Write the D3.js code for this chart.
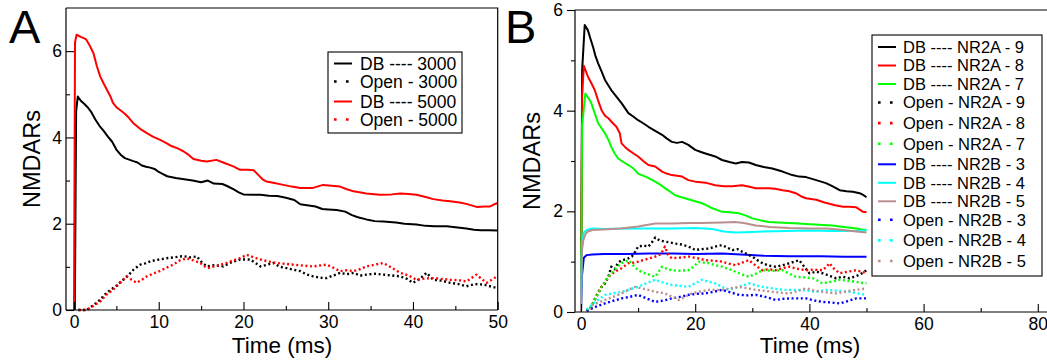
<!DOCTYPE html>
<html><head><meta charset="utf-8">
<script src="https://cdn.jsdelivr.net/npm/d3@7"></script>
<style>body{margin:0;background:#fff}svg{display:block}text{font-family:"Liberation Sans",Arial,sans-serif;fill:#000}</style>
</head><body>
<svg id="c" width="1047" height="364"></svg>
<script>
// ---------- DATA (time ms, NMDARs) ----------
const aTicksX = [0,10,20,30,40,50];
const aTicksY = [0,2,4,6];
const bTicksX = [0,20,40,60,80];
const bTicksY = [0,2,4,6];

const a_db3000 = [[0.1,0],[0.25,4.6],[0.45,4.95],[0.8,4.85],[1.2,4.78],[1.6,4.7],[2,4.6],[2.5,4.42],[3,4.27],[3.5,4.15],[4,4.02],[4.5,3.9],[5,3.72],[5.5,3.6],[6,3.52],[7,3.45],[7.5,3.42],[8,3.35],[8.5,3.32],[9,3.3],[9.5,3.27],[10,3.2],[10.5,3.15],[11,3.1],[12,3.06],[13,3.03],[14,3.0],[15,2.96],[15.8,3.0],[16.5,2.93],[17.5,2.92],[18,2.88],[18.8,2.8],[19.5,2.72],[20,2.68],[21,2.67],[22,2.67],[23,2.65],[24,2.64],[25,2.6],[26,2.55],[26.7,2.45],[27.5,2.43],[28.5,2.4],[29.3,2.34],[30,2.33],[31,2.32],[32,2.28],[32.8,2.2],[33.5,2.15],[34.5,2.1],[35.5,2.06],[36.5,2.05],[38,2.03],[39,2.0],[40.4,1.98],[41.5,1.95],[42.5,1.94],[44,1.94],[45,1.92],[46.3,1.89],[47.2,1.86],[48,1.85],[49,1.85],[50,1.84]];
const a_open3000 = [[0.5,0],[1.5,0],[2.2,0.1],[3.1,0.24],[3.6,0.35],[4.2,0.45],[5,0.56],[5.8,0.7],[6.4,0.8],[7,0.93],[7.8,1.05],[8.4,1.08],[9,1.13],[9.8,1.16],[10.9,1.2],[11.8,1.22],[12.9,1.25],[13.7,1.22],[14.5,1.24],[15.1,1.1],[15.7,1.01],[16.6,1.04],[17.6,1.01],[18.5,1.1],[19.6,1.17],[20.8,1.17],[21.5,1.08],[22,1.01],[22.8,1.05],[23.5,1.09],[24.3,1.0],[25.1,0.97],[26,0.93],[26.7,0.9],[27.5,0.82],[28.2,0.78],[29,0.75],[29.8,0.74],[30.6,0.8],[31.4,0.86],[32.2,0.83],[33,0.86],[33.8,0.8],[34.5,0.82],[35.5,0.84],[36.5,0.82],[37.5,0.8],[38.5,0.78],[39.3,0.72],[40,0.63],[40.8,0.72],[41.6,0.86],[42.4,0.7],[43.4,0.68],[44.4,0.63],[45.4,0.6],[46.3,0.55],[47.3,0.6],[48.3,0.59],[49.1,0.55],[49.9,0.51]];
const a_db5000 = [[0,0],[0.12,6.2],[0.3,6.38],[0.8,6.33],[1.4,6.28],[1.8,6.15],[2.3,5.95],[2.7,5.65],[3.1,5.41],[3.5,5.25],[3.9,5.1],[4.3,4.95],[4.6,4.8],[5,4.7],[5.4,4.64],[6,4.55],[6.5,4.45],[7,4.33],[7.8,4.2],[8.6,4.1],[9.3,4.02],[10.1,3.95],[10.9,3.87],[11.5,3.8],[12.3,3.74],[12.9,3.68],[13.5,3.6],[14.1,3.5],[15,3.46],[15.7,3.44],[16.8,3.48],[17.6,3.42],[18.8,3.33],[19.6,3.25],[20.5,3.25],[21.2,3.24],[21.8,3.12],[22.3,3.02],[22.7,2.98],[23.5,2.95],[24.7,2.9],[25.7,2.86],[26.7,2.83],[28.2,2.83],[29.4,2.9],[30.4,2.88],[31.4,2.86],[32.2,2.8],[33,2.75],[34.5,2.7],[36.1,2.67],[37.5,2.68],[38.5,2.7],[39.5,2.69],[40.4,2.67],[41.5,2.62],[42.4,2.57],[43.5,2.54],[44.4,2.52],[45.5,2.49],[46.3,2.46],[47.5,2.39],[48.5,2.4],[49.1,2.4],[49.6,2.45],[50,2.48]];
const a_open5000 = [[0.6,0],[1.5,0],[2.3,0.1],[3.1,0.2],[3.8,0.35],[4.6,0.47],[5.4,0.62],[6.2,0.78],[6.8,0.7],[7.4,0.63],[8,0.7],[8.6,0.78],[9.4,0.85],[10.1,0.9],[10.9,0.98],[11.7,1.05],[12.5,1.15],[13.3,1.2],[14.1,1.15],[14.9,1.09],[15.7,0.97],[16.8,1.02],[18,1.09],[18.8,1.15],[19.6,1.2],[20.4,1.28],[21.2,1.22],[22,1.17],[23,1.12],[23.9,1.09],[24.9,1.07],[25.9,1.05],[27,1.03],[28.2,1.01],[29,1.03],[29.8,1.05],[30.6,0.98],[31.4,0.9],[32.2,0.92],[33,0.9],[33.8,0.95],[34.5,1.01],[35.5,1.05],[36.5,1.09],[37.5,0.98],[38.5,0.86],[39.5,0.8],[40.4,0.7],[41.4,0.73],[42.4,0.74],[43.4,0.72],[44.4,0.7],[45.4,0.69],[46.3,0.66],[47.5,0.82],[48.1,0.72],[48.7,0.63],[49.3,0.7],[49.9,0.78]];

const b_db_nr2a9 = [[0,0],[0.2,4.8],[0.65,5.7],[1.2,5.6],[1.6,5.45],[2.1,5.27],[2.5,5.1],[3,4.94],[3.6,4.78],[4.2,4.61],[4.8,4.5],[5.3,4.41],[6.2,4.28],[7.1,4.15],[7.7,4.05],[8.3,3.95],[9.2,3.88],[10,3.81],[10.9,3.75],[11.8,3.68],[13,3.6],[14.2,3.52],[15,3.45],[15.9,3.38],[16.8,3.36],[17.7,3.38],[18.8,3.32],[20,3.22],[21,3.18],[21.8,3.15],[23.5,3.09],[24.7,3.02],[26,2.98],[27.1,2.95],[28.2,2.98],[29.4,2.97],[30.6,2.92],[32,2.88],[33.5,2.85],[35.3,2.79],[37,2.72],[38.2,2.69],[39.4,2.68],[40.3,2.65],[41.2,2.62],[42.9,2.56],[44,2.5],[45.3,2.42],[46.5,2.4],[47.6,2.39],[48.8,2.36],[49.5,2.32],[50,2.28]];
const b_db_nr2a8 = [[0,0],[0.2,4.3],[0.5,4.89],[1.2,4.68],[1.8,4.55],[2.4,4.41],[3,4.2],[3.6,4.01],[4.2,3.9],[4.8,3.85],[5.5,3.76],[6.2,3.68],[6.8,3.55],[7.1,3.35],[7.7,3.28],[8.3,3.22],[9.2,3.15],[10,3.09],[10.9,3.0],[11.8,2.92],[13,2.89],[14.2,2.79],[15,2.75],[15.9,2.72],[17.7,2.69],[18.8,2.62],[20,2.59],[21,2.58],[21.8,2.57],[23.5,2.52],[25,2.5],[26.5,2.5],[28.2,2.52],[29.5,2.49],[30.6,2.46],[32.9,2.46],[34,2.45],[35.3,2.42],[36.5,2.4],[37.6,2.36],[38.5,2.3],[39.4,2.26],[41.2,2.23],[42.5,2.18],[43.5,2.15],[44.5,2.12],[45.9,2.09],[47,2.09],[48.2,2.08],[49.4,1.99],[50,1.98]];
const b_db_nr2a7 = [[0,0],[0.2,3.7],[0.76,4.34],[1.3,4.25],[1.8,4.15],[2.4,3.95],[3,3.75],[3.6,3.65],[4.2,3.55],[4.8,3.42],[5.3,3.28],[5.9,3.15],[6.5,3.05],[7.4,2.98],[8.3,2.92],[9.2,2.85],[10,2.75],[11.5,2.68],[13,2.59],[14,2.52],[14.7,2.46],[15.5,2.4],[16.5,2.32],[17.6,2.28],[18.8,2.24],[20,2.2],[21.2,2.16],[22,2.12],[23,2.06],[24,2.02],[24.7,1.99],[26,1.98],[27.7,1.96],[28.8,1.92],[30,1.86],[31.5,1.82],[32.9,1.79],[34.5,1.78],[36.5,1.77],[38,1.76],[39.4,1.75],[41,1.74],[42.3,1.73],[44,1.72],[45.3,1.7],[46.8,1.68],[48.2,1.66],[49.2,1.64],[50,1.63]];
const b_open_nr2a9 = [[1,0.02],[1.8,0.1],[2.4,0.25],[3,0.37],[3.6,0.5],[4.2,0.57],[4.8,0.7],[5.3,0.9],[5.9,0.85],[6.5,0.98],[7.1,1.03],[8,1.05],[8.9,1.1],[9.5,1.2],[10,1.3],[10.9,1.32],[11.8,1.3],[12.4,1.38],[13,1.48],[13.8,1.42],[14.7,1.4],[15.6,1.38],[16.5,1.36],[17.6,1.34],[18.8,1.3],[19.4,1.27],[20,1.23],[21.2,1.25],[22.4,1.26],[23.5,1.3],[24.7,1.33],[25.6,1.28],[26.5,1.23],[27.4,1.25],[28.2,1.2],[29.1,1.15],[30,1.1],[30.9,1.03],[31.8,0.97],[32.9,0.92],[34.1,0.9],[35.3,0.93],[36.5,0.97],[37.4,1.0],[38.2,1.03],[39.1,0.9],[40,0.77],[41.2,0.8],[42.3,0.77],[43.5,0.72],[44.7,0.67],[45.8,0.7],[47,0.67],[47.9,0.7],[48.8,0.74],[50,0.83]];
const b_open_nr2a8 = [[1,0.02],[1.8,0.1],[2.4,0.25],[3,0.4],[3.9,0.55],[4.8,0.7],[5.9,0.8],[7.1,0.87],[8.3,0.97],[9.2,0.98],[10,1.0],[11.5,1.05],[13,1.1],[14,1.15],[14.7,1.3],[15.3,1.12],[15.9,1.07],[17.3,1.08],[18.8,1.1],[20.3,1.07],[21.8,1.03],[23.2,1.02],[24.7,1.0],[25.9,0.96],[27.1,0.93],[28.2,0.98],[29.4,1.03],[30.6,0.92],[31.8,0.83],[32.9,0.85],[34.1,0.83],[35.3,0.87],[36.5,0.9],[37.8,0.86],[39.4,0.83],[40.8,0.84],[42.3,0.83],[43,0.9],[43.5,0.97],[44.4,0.85],[45.3,0.77],[46.7,0.8],[48.2,0.83],[49.1,0.8],[50,0.77]];
const b_open_nr2a7 = [[1,0.02],[1.8,0.1],[2.7,0.3],[3.6,0.5],[4.5,0.65],[5.3,0.77],[6.2,0.88],[7.1,0.97],[8.3,1.03],[9.2,0.92],[10,0.83],[11.5,0.76],[13,0.7],[13.6,0.8],[14.2,0.9],[15,0.86],[15.9,0.83],[17.3,0.82],[18.8,0.83],[19.7,0.9],[20.6,1.0],[21.5,0.98],[22.4,0.97],[23.5,0.93],[24.7,0.9],[26.2,0.84],[27.7,0.77],[28.6,0.73],[29.4,0.7],[30.6,0.76],[31.8,0.83],[33.5,0.82],[35.3,0.83],[36.5,0.76],[37.6,0.7],[39,0.69],[40.6,0.67],[41.5,0.62],[42.3,0.57],[43.8,0.6],[45.3,0.64],[46.8,0.62],[48.2,0.6],[49.1,0.58],[50,0.57]];
const b_db_nr2b3 = [[0,0],[0.15,0.7],[0.5,1.08],[1,1.13],[2,1.14],[4,1.15],[8,1.15],[12,1.16],[16,1.16],[20,1.15],[24.7,1.16],[28,1.14],[32,1.12],[36.5,1.11],[42,1.11],[46,1.1],[50,1.1]];
const b_db_nr2b4 = [[0,0],[0.15,1.3],[0.5,1.58],[1,1.63],[2,1.66],[4,1.65],[8,1.66],[12,1.66],[16,1.66],[20,1.67],[23,1.65],[25,1.6],[27,1.58],[30,1.59],[32,1.6],[36,1.61],[40,1.62],[44,1.61],[48,1.61],[50,1.62]];
const b_db_nr2b5 = [[0,0],[0.15,1.2],[0.4,1.43],[0.8,1.55],[1.2,1.6],[2,1.63],[4,1.64],[7,1.66],[10,1.7],[12,1.74],[13,1.76],[16,1.76],[18.8,1.77],[21,1.77],[24.7,1.78],[27,1.79],[28.5,1.77],[30.6,1.72],[33,1.69],[36.5,1.67],[40,1.66],[43,1.66],[46,1.63],[48.2,1.6],[50,1.58]];
const b_open_nr2b3 = [[1,0.02],[2.5,0.1],[4.2,0.17],[5.6,0.22],[7.1,0.27],[8.5,0.3],[10,0.34],[11.5,0.27],[13,0.2],[14.5,0.23],[15.9,0.27],[17.3,0.3],[18.8,0.34],[20.3,0.36],[21.8,0.37],[23.2,0.4],[24.7,0.44],[26.2,0.39],[27.7,0.34],[29.2,0.33],[30.6,0.34],[32.3,0.3],[34.1,0.24],[35.3,0.26],[36.5,0.27],[38,0.27],[39.4,0.27],[40.8,0.23],[42.3,0.2],[43.8,0.19],[45.3,0.17],[46.8,0.22],[48.2,0.27],[50,0.27]];
const b_open_nr2b4 = [[1,0.05],[2.5,0.2],[4.2,0.34],[5.6,0.37],[7.1,0.4],[8.5,0.45],[10,0.5],[11.5,0.57],[13,0.64],[14.5,0.58],[15.9,0.54],[17.3,0.52],[18.8,0.5],[20,0.57],[21.2,0.64],[22.4,0.6],[23.5,0.57],[24.7,0.5],[25.9,0.44],[27.7,0.5],[29.4,0.57],[30.6,0.53],[31.8,0.5],[33.5,0.47],[35.3,0.44],[37.5,0.44],[39.4,0.43],[41.2,0.4],[43,0.44],[45,0.42],[47,0.4],[48.5,0.37],[50,0.34]];
const b_open_nr2b5 = [[1.5,0.05],[2,0.14],[4.2,0.24],[5.6,0.3],[7.1,0.37],[8.3,0.44],[9.5,0.5],[10.6,0.47],[11.8,0.44],[13,0.4],[14.7,0.37],[16,0.3],[17.1,0.24],[18.2,0.3],[19.4,0.37],[21,0.41],[22.4,0.44],[24.7,0.44],[26.2,0.47],[27.7,0.5],[29.2,0.47],[30.6,0.44],[32.3,0.42],[33.5,0.4],[35.3,0.38],[36.5,0.37],[38,0.42],[39.4,0.47],[40.8,0.43],[42.3,0.4],[43.8,0.38],[44.7,0.37],[46.5,0.41],[48.2,0.44],[50,0.47]];

const aSeries = [
  {name:"DB ---- 3000", data:a_db3000, color:"#000000", dotted:false},
  {name:"Open - 3000", data:a_open3000, color:"#000000", dotted:true},
  {name:"DB ---- 5000", data:a_db5000, color:"#ff0000", dotted:false},
  {name:"Open - 5000", data:a_open5000, color:"#ff0000", dotted:true}
];
const bSeries = [
  {name:"DB ---- NR2A - 9", data:b_db_nr2a9, color:"#000000", dotted:false},
  {name:"DB ---- NR2A - 8", data:b_db_nr2a8, color:"#ff0000", dotted:false},
  {name:"DB ---- NR2A - 7", data:b_db_nr2a7, color:"#00ff00", dotted:false},
  {name:"Open - NR2A - 9", data:b_open_nr2a9, color:"#000000", dotted:true},
  {name:"Open - NR2A - 8", data:b_open_nr2a8, color:"#ff0000", dotted:true},
  {name:"Open - NR2A - 7", data:b_open_nr2a7, color:"#00ff00", dotted:true},
  {name:"DB ---- NR2B - 3", data:b_db_nr2b3, color:"#0000ff", dotted:false},
  {name:"DB ---- NR2B - 4", data:b_db_nr2b4, color:"#00ffff", dotted:false},
  {name:"DB ---- NR2B - 5", data:b_db_nr2b5, color:"#bc8f8f", dotted:false},
  {name:"Open - NR2B - 3", data:b_open_nr2b3, color:"#0000ff", dotted:true},
  {name:"Open - NR2B - 4", data:b_open_nr2b4, color:"#00ffff", dotted:true},
  {name:"Open - NR2B - 5", data:b_open_nr2b5, color:"#bc8f8f", dotted:true}
];

// ---------- DRAW ----------
const svg = d3.select("#c");
const W = 1047;

function panel(cfg){
  const x = d3.scaleLinear().domain(cfg.xd).range(cfg.xr);
  const y = d3.scaleLinear().domain(cfg.yd).range(cfg.yr);
  const g = svg.append("g");
  const left = cfg.left, right = cfg.right, top = y(cfg.ytop), bottom = y(0);
  const line = d3.line().x(d=>x(d[0])).y(d=>y(d[1]));
  const order = cfg.series.filter(s=>!s.dotted).concat(cfg.series.filter(s=>s.dotted));
  g.selectAll("path.s").data(order).join("path").attr("class","s")
    .attr("d", s=>line(s.data)).attr("fill","none").attr("stroke", s=>s.color)
    .attr("stroke-width", s=>s.dotted?2.4:2)
    .attr("stroke-dasharray", s=>s.dotted?"2,2.6":null)
    .attr("stroke-linejoin","round");
  // frame
  g.append("path").attr("d",`M${left},${top}H${right}${cfg.closed?`V${bottom}`:""}`).attr("stroke","#000").attr("fill","none").attr("stroke-width",1.2);
  // x axis (inward ticks)
  const xa = d3.axisBottom(x).tickValues(cfg.xticks).tickSize(-8).tickPadding(6).tickFormat(d3.format("d"));
  const gx = g.append("g").attr("transform",`translate(0,${bottom})`).call(xa);
  gx.select(".domain").attr("d",`M${left},0H${right}`).attr("stroke-width",1.2);
  const xminor = d3.axisBottom(x).tickValues(cfg.xminor).tickSize(-4).tickFormat("");
  g.append("g").attr("transform",`translate(0,${bottom})`).call(xminor).select(".domain").remove();
  // y axis
  const inward = cfg.yInward;
  const ya = d3.axisLeft(y).tickValues(cfg.yticks).tickSize(inward?-8:8).tickPadding(4).tickFormat(d3.format("d"));
  const gy = g.append("g").attr("transform",`translate(${left},0)`).call(ya);
  gy.select(".domain").attr("d",`M0,${top}V${bottom}`).attr("stroke-width",1.2);
  const yminor = d3.axisLeft(y).tickValues(cfg.yminor).tickSize(inward?-4:4).tickFormat("");
  g.append("g").attr("transform",`translate(${left},0)`).call(yminor).select(".domain").remove();
  g.selectAll(".tick text").style("font-size","17.5px").style("font-family",'"Liberation Sans",Arial,sans-serif');
  g.selectAll(".tick line").attr("stroke-width",1.1);
  // titles
  g.append("text").attr("x",cfg.xTitleX).attr("y",352.5).attr("text-anchor","middle").style("font-size","22.5px").text("Time (ms)");
  g.append("text").attr("transform",`translate(${cfg.yTitleX},${cfg.yTitleY}) rotate(-90)`).attr("text-anchor","middle").style("font-size","23.5px").text("NMDARs");
  g.append("text").attr("x",cfg.letterX).attr("y",43).style("font-size","47px").text(cfg.letter);
  // legend
  const L = cfg.legend;
  g.append("rect").attr("x",L.x).attr("y",L.y).attr("width",L.w).attr("height",L.h).attr("fill","#fff").attr("stroke","#000").attr("stroke-width",1.1);
  let yy = L.y0;
  cfg.series.forEach(s=>{
    g.append("line").attr("x1",L.lx1).attr("x2",L.lx2).attr("y1",yy).attr("y2",yy)
      .attr("stroke",s.color).attr("stroke-width",s.dotted?2.6:2)
      .attr("stroke-dasharray",s.dotted?"2.6,9.4":null);
    g.append("text").attr("x",L.tx).attr("y",yy).attr("dy","0.36em").style("font-size",L.fs+"px").text(s.name);
    yy += s.dotted?L.gapDot:L.gapSolid;
  });
}

panel({
  series:aSeries, xd:[0,50], xr:[74,497.7], yd:[0,7], yr:[310,8], ytop:7,
  left:66, right:497.7, closed:true,
  xticks:aTicksX, xminor:[5,15,25,35,45], yticks:aTicksY, yminor:[1,3,5], yInward:true,
  xTitleX:282, yTitleX:40, yTitleY:159, letter:"A", letterX:9,
  legend:{x:328,y:52,w:134,h:81,y0:63.5,lx1:334,lx2:352,tx:360,fs:17.5,gapSolid:18,gapDot:20}
});
panel({
  series:bSeries, xd:[0,80], xr:[581,1037.8], yd:[0,6], yr:[312,10], ytop:6,
  left:575, right:W+5, closed:false,
  xticks:bTicksX, xminor:[10,30,50,70], yticks:bTicksY, yminor:[1,3,5], yInward:false,
  xTitleX:810, yTitleX:540, yTitleY:161, letter:"B", letterX:505,
  legend:{x:872,y:35,w:170,h:241,y0:47,lx1:878,lx2:896,tx:903,fs:16.5,gapSolid:18.5,gapDot:20.6}
});
</script>
</body></html>
